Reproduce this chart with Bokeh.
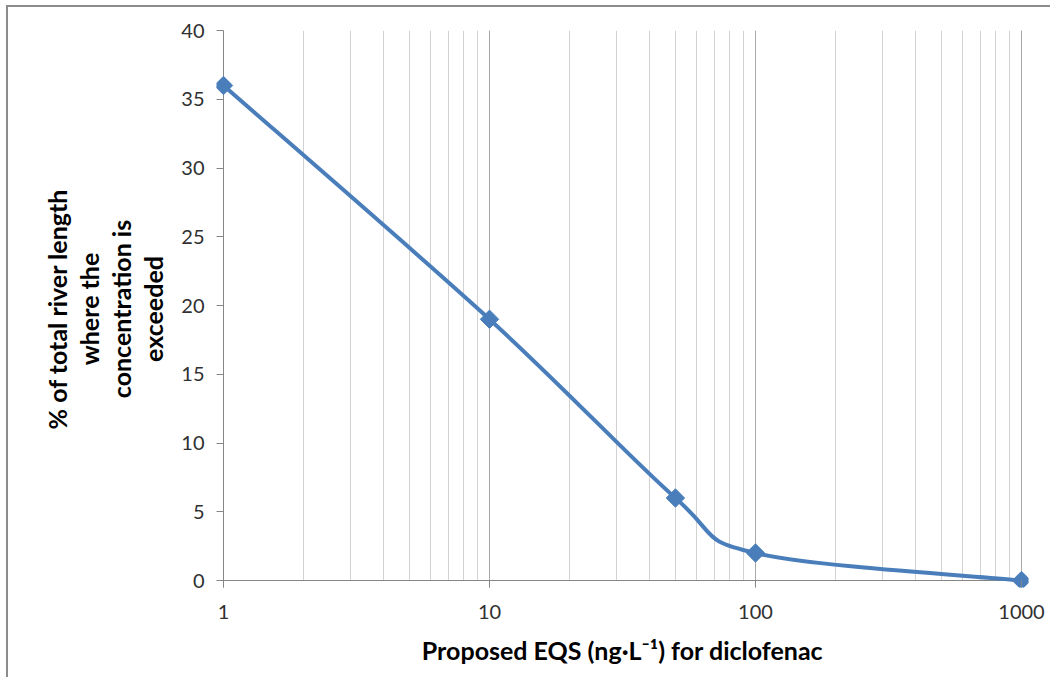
import numpy as np
from bokeh.plotting import figure
from bokeh.models import (Range1d, LogTicker, FixedTicker, NumeralTickFormatter,
                          BoxAnnotation, Span)
from bokeh.embed import file_html
from bokeh.resources import INLINE

# data
eqs = [1, 10, 50, 100, 1000]
pct = [36, 19, 6, 2, 0]
y_ticks = [0, 5, 10, 15, 20, 25, 30, 35, 40]
x_min, x_max = 1, 1000
y_min, y_max = 0, 40

BLUE = "#4a7ebb"
AXIS = "#868686"
FONT = "Lato"

# padding (= tick length) so the end markers are not clipped by the frame
PAD = 7
FW, FH = 798, 550
dlog = np.log10(x_max / x_min) / FW * PAD
dy = (y_max - y_min) / FH * PAD

p = figure(x_axis_type="log", output_backend="svg", toolbar_location=None,
           frame_width=FW + 2 * PAD, frame_height=FH + PAD,
           min_border_left=215 - PAD, min_border_top=23,
           min_border_right=22, min_border_bottom=90,
           x_range=Range1d(x_min * 10 ** (-dlog), x_max * 10 ** dlog),
           y_range=Range1d(y_min - dy, y_max))
p.outline_line_color = None
p.background_fill_color = "white"
p.border_fill_color = "white"
p.styles = {"border-left": "2px solid #8c8c8c", "border-top": "2px solid #8c8c8c",
            "margin-left": "6px", "margin-top": "5px"}

# grids
p.ygrid.grid_line_color = None
p.xgrid.grid_line_color = "#a8a8a8"
p.xgrid.minor_grid_line_color = "#d2d2d2"
p.xaxis.ticker = LogTicker(num_minor_ticks=10)
p.yaxis.ticker = FixedTicker(ticks=y_ticks)
p.xaxis.formatter = NumeralTickFormatter(format="0")

# hide grid below the zero line
p.add_layout(BoxAnnotation(top=y_min, fill_color="white", fill_alpha=1.0,
                           line_color=None, level="underlay"))
# axis lines at the data origin
p.add_layout(Span(location=y_min, dimension="width", line_color=AXIS,
                  line_width=1, level="underlay"))
p.add_layout(Span(location=x_min, dimension="height", line_color=AXIS,
                  line_width=1, level="underlay"))
# trim x axis line beyond the last decade
p.add_layout(BoxAnnotation(left=x_max * 10 ** (dlog / PAD * 1.5), fill_color="white",
                           fill_alpha=1.0, line_color=None, level="underlay"))

# smoothed line (Catmull-Rom style Bezier in log-x space)
lx = np.log10(np.array(eqs, dtype=float))
yy = np.array(pct, dtype=float)
n = len(lx)
x0, y0, x1, y1, cx0, cy0, cx1, cy1 = [], [], [], [], [], [], [], []
for i in range(n - 1):
    im = max(i - 1, 0)
    ip = min(i + 2, n - 1)
    c0x = lx[i] + (lx[i + 1] - lx[im]) / 6
    c0y = yy[i] + (yy[i + 1] - yy[im]) / 6
    c1x = lx[i + 1] - (lx[ip] - lx[i]) / 6
    c1y = yy[i + 1] - (yy[ip] - yy[i]) / 6
    x0.append(10 ** lx[i]); y0.append(yy[i])
    x1.append(10 ** lx[i + 1]); y1.append(yy[i + 1])
    cx0.append(10 ** c0x); cy0.append(c0y)
    cx1.append(10 ** c1x); cy1.append(c1y)
p.bezier(x0=x0, y0=y0, x1=x1, y1=y1, cx0=cx0, cy0=cy0, cx1=cx1, cy1=cy1,
         line_color=BLUE, line_width=4)
p.scatter(eqs, pct, marker="square", angle=np.pi / 4, size=13,
          fill_color=BLUE, line_color=BLUE)

for ax in (p.xaxis[0], p.yaxis[0]):
    ax.axis_line_color = None
    ax.major_tick_line_color = AXIS
    ax.major_tick_out = 0
    ax.major_tick_in = PAD
    ax.minor_tick_line_color = None
    ax.major_label_text_font = FONT
    ax.major_label_text_font_size = "20px"
    ax.major_label_text_color = "#303030"
    ax.axis_label_text_font = FONT
    ax.axis_label_text_font_size = "25px"
    ax.axis_label_text_font_style = "bold"
    ax.axis_label_text_color = "#000000"

p.xaxis.bounds = (x_min, x_max)
p.yaxis.bounds = (y_min, y_max)

p.xaxis.major_label_standoff = 13
p.yaxis.major_label_standoff = 12
p.xaxis.axis_label = "Proposed EQS (ng\u00b7L\u207b\u00b9) for diclofenac"
p.xaxis.axis_label_standoff = 13
p.yaxis.axis_label = "% of total river length\nwhere the\nconcentration is\nexceeded"
p.yaxis.axis_label_standoff = 10
p.yaxis.axis_label_text_line_height = 1.07

open("out.html", "w").write(file_html(p, INLINE))
